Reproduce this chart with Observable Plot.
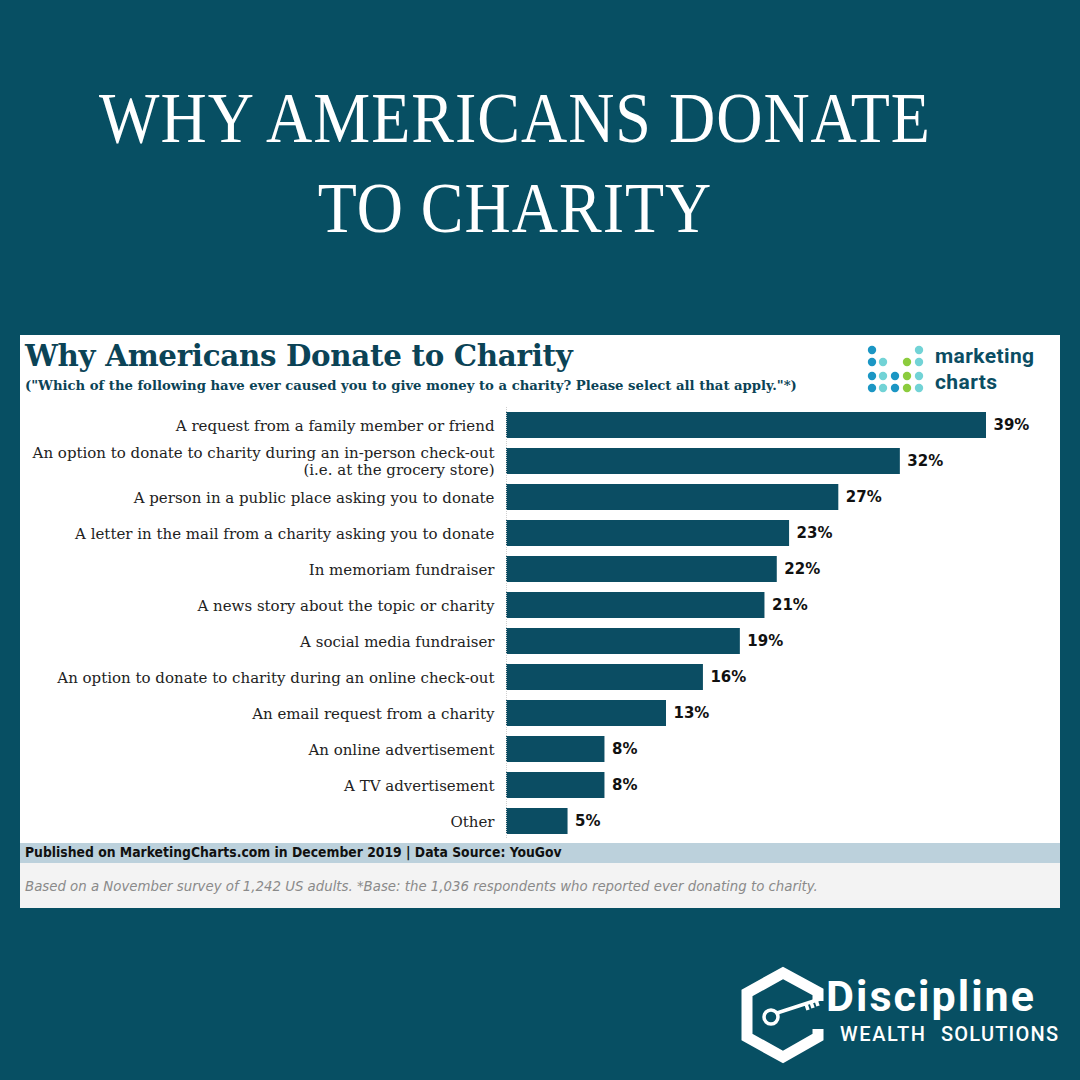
<!DOCTYPE html>
<html>
<head>
<meta charset="utf-8">
<script src="https://cdn.jsdelivr.net/npm/d3@7"></script>
<script src="https://cdn.jsdelivr.net/npm/@observablehq/plot@0.6"></script>
<style>
  html, body { margin: 0; padding: 0; }
  #page { position: relative; width: 1080px; height: 1080px; background: #074f63; overflow: hidden; font-family: "DejaVu Serif", serif; }
  .big { position: absolute; left: 0; width: 1030px; text-align: center; color: #fff; font-family: "Liberation Serif", serif; font-size: 64px; letter-spacing: 1px; transform: scale(1, 1.12); transform-origin: center center; line-height: 1; }
  #panel { position: absolute; left: 20px; top: 335px; width: 1040px; height: 573px; background: #fff; }
  #ctitle { position: absolute; left: 5px; top: 3px; font-family: "DejaVu Serif", serif; font-weight: bold; font-size: 29.3px; color: #0b4356; letter-spacing: -0.3px; }
  #csub { position: absolute; left: 5px; top: 43px; font-family: "DejaVu Serif", serif; font-weight: bold; font-size: 13.2px; color: #0b4356; }
  #pub { position: absolute; left: 0; top: 508px; width: 1040px; height: 20px; background: #bcd1dc; }
  #pub span { position: absolute; left: 5px; top: 1px; font-family: "DejaVu Sans", sans-serif; font-stretch: condensed; font-weight: bold; font-size: 13.8px; color: #111; white-space: nowrap; }
  #note { position: absolute; left: 0; top: 528px; width: 1040px; height: 45px; background: #f3f3f3; }
  #note span { position: absolute; left: 5px; top: 14px; font-family: "DejaVu Sans", sans-serif; font-stretch: condensed; font-style: italic; font-size: 14.8px; color: #8a8a8a; white-space: nowrap; }
  #chart { position: absolute; left: 0; top: 72px; line-height: 0; }
  #mclogo { position: absolute; left: 820px; top: 0px; }
  #dlogo { position: absolute; left: 740px; top: 965px; }
</style>
</head>
<body>
<div id="page">
  <div class="big" style="top:86px;">WHY AMERICANS DONATE</div>
  <div class="big" style="top:176px;">TO CHARITY</div>
  <div id="panel">
    <div id="ctitle">Why Americans Donate to Charity</div>
    <div id="csub">("Which of the following have ever caused you to give money to a charity? Please select all that apply."*)</div>
    <svg id="mclogo" width="220" height="70"></svg>
    <div id="chart"></div>
    <div id="pub"><span>Published on MarketingCharts.com in December 2019 | Data Source: YouGov</span></div>
    <div id="note"><span>Based on a November survey of 1,242 US adults. *Base: the 1,036 respondents who reported ever donating to charity.</span></div>
  </div>
  <svg id="dlogo" width="340" height="100"></svg>
</div>
<script>
const categories = [
  "A request from a family member or friend",
  "An option to donate to charity during an in-person check-out\n(i.e. at the grocery store)",
  "A person in a public place asking you to donate",
  "A letter in the mail from a charity asking you to donate",
  "In memoriam fundraiser",
  "A news story about the topic or charity",
  "A social media fundraiser",
  "An option to donate to charity during an online check-out",
  "An email request from a charity",
  "An online advertisement",
  "A TV advertisement",
  "Other"
];
const values = [39, 32, 27, 23, 22, 21, 19, 16, 13, 8, 8, 5];

const data = categories.map((c, i) => ({label: c, value: values[i]}));

const chart = Plot.plot({
  width: 1040,
  height: 432,
  marginLeft: 486,
  marginRight: 74,
  marginTop: 0,
  marginBottom: 0,
  style: { fontFamily: "DejaVu Serif, serif", background: "transparent", color: "#222", overflow: "visible" },
  x: { domain: [0, 39], axis: null },
  y: { domain: categories, paddingInner: 0.28, paddingOuter: 0, label: null },
  marks: [
    Plot.axisY({ tickSize: 0, tickPadding: 12, fontSize: 15, lineHeight: 1.12, fill: "#222" }),
    Plot.barX(data, { x: "value", y: "label", fill: "#0b4d63" }),
    Plot.ruleX([0], { stroke: "#cfcfcf", strokeDasharray: "1,1" }),
    Plot.text(data, { x: "value", y: "label", text: d => d.value + "%", dx: 7, textAnchor: "start", fontWeight: "bold", fontSize: 15, fill: "#111", fontFamily: "DejaVu Sans, sans-serif" })
  ]
});
document.getElementById("chart").appendChild(chart);

// marketing charts logo
(function(){
  const s = d3.select("#mclogo");
  const blue = "#1b96c4", cyan = "#72d3d6", green = "#8ccc3d";
  const cols = [32, 43, 55, 67, 79];
  const rows = [15, 27, 41, 53];
  const grid = [
    [blue, null, null, null, cyan],
    [blue, cyan, null, green, cyan],
    [blue, cyan, blue, green, cyan],
    [blue, cyan, blue, green, cyan]
  ];
  grid.forEach((r, ri) => r.forEach((c, ci) => { if (c) s.append("circle").attr("cx", cols[ci]).attr("cy", rows[ri]).attr("r", 4.2).attr("fill", c); }));
  s.append("text").attr("x", 95).attr("y", 28).text("marketing").attr("font-family", "Roboto, sans-serif").attr("font-weight", "bold").attr("font-size", 21).attr("letter-spacing", 0.4).attr("fill", "#0b4d63");
  s.append("text").attr("x", 95).attr("y", 54).text("charts").attr("font-family", "Roboto, sans-serif").attr("font-weight", "bold").attr("font-size", 21).attr("letter-spacing", 0.4).attr("fill", "#0b4d63");
})();

// Discipline logo
(function(){
  const s = d3.select("#dlogo");
  s.append("path").attr("d", "M78,36 L78,27 L43,8 L7,28 L7,72 L43,92 L78,72 L78,64").attr("fill", "none").attr("stroke", "#fff").attr("stroke-width", 11).attr("stroke-linejoin", "miter");
  s.append("circle").attr("cx", 31).attr("cy", 52).attr("r", 7).attr("fill", "none").attr("stroke", "#fff").attr("stroke-width", 3.5);
  s.append("path").attr("d", "M37,48 L80,34 M66,39 L68,45 M71,37 L73,43 M76,35 L78,41").attr("stroke", "#fff").attr("stroke-width", 3.5).attr("fill", "none");
  s.append("text").attr("x", 86).attr("y", 46).attr("font-family", "Roboto, sans-serif").attr("font-weight", "bold").attr("font-size", 43).attr("textLength", 208).attr("fill", "#fff").text("Discipline");
  s.append("text").attr("x", 100).attr("y", 76).attr("font-family", "Roboto, sans-serif").attr("font-weight", "500").attr("font-size", 20).attr("textLength", 85).attr("fill", "#fff").text("WEALTH");
  s.append("text").attr("x", 201).attr("y", 76).attr("font-family", "Roboto, sans-serif").attr("font-weight", "500").attr("font-size", 20).attr("textLength", 117).attr("fill", "#fff").text("SOLUTIONS");
})();
</script>
</body>
</html>
